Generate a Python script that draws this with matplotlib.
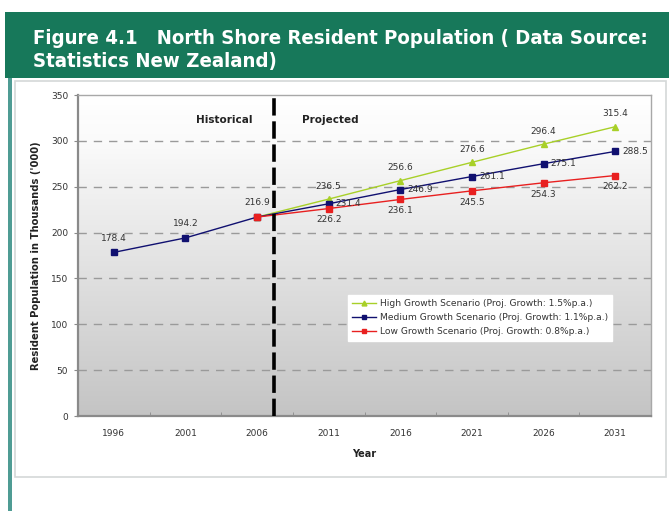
import numpy as np
import matplotlib
matplotlib.use("Agg")
import matplotlib.pyplot as plt
from matplotlib.patches import Rectangle
from matplotlib.lines import Line2D
from matplotlib.colors import LinearSegmentedColormap

years = ["1996", "2001", "2006", "2011", "2016", "2021", "2026", "2031"]
high = [None, None, 216.9, 236.5, 256.6, 276.6, 296.4, 315.4]
medium = [178.4, 194.2, 216.9, 231.4, 246.9, 261.1, 275.1, 288.5]
low = [None, None, 216.9, 226.2, 236.1, 245.5, 254.3, 262.2]
y_ticks = [0, 50, 100, 150, 200, 250, 300, 350]
split_pos = 2.24  # boundary between historical and projected periods

title = "Figure 4.1   North Shore Resident Population ( Data Source:\nStatistics New Zealand)"
legend_labels = ["High Growth Scenario (Proj. Growth: 1.5%p.a.)",
                 "Medium Growth Scenario (Proj. Growth: 1.1%p.a.)",
                 "Low Growth Scenario (Proj. Growth: 0.8%p.a.)"]

W, H = 669, 511
fig = plt.figure(figsize=(W / 100, H / 100), dpi=100)
fig.patch.set_facecolor("white")

def fx(px):
    return px / W

def fy(py):
    return 1 - py / H

# header bar and page frame
green = "#17785a"
fig.patches.append(Rectangle((fx(5), fy(78)), fx(664), 66 / H, transform=fig.transFigure,
                             facecolor=green, edgecolor="none", zorder=-2))
fig.patches.append(Rectangle((fx(8), 0), fx(4), fy(78), transform=fig.transFigure,
                             facecolor="#4f9c94", edgecolor="none", zorder=-2))
fig.patches.append(Rectangle((fx(15), fy(477)), fx(651), (477 - 81) / H, transform=fig.transFigure,
                             facecolor="white", edgecolor="#d4d8d8", lw=1.2, zorder=-2))
fig.text(fx(33), fy(50), title, color="white", fontsize=14.6, fontweight="bold",
         family="DejaVu Sans", fontstretch="condensed", va="center", ha="left",
         linespacing=1.3)

ax = fig.add_axes([fx(78), fy(416), fx(651 - 78), (416 - 95) / H])
ax.set_zorder(1)
n = len(years)
x = np.arange(n)
ax.set_xlim(-0.5, n - 0.5)
ax.set_ylim(0, 350)

# vertical grey gradient for the plotting area
cmap = LinearSegmentedColormap.from_list(
    "bg", [(0.0, "#c4c4c4"), (0.5, "#e4e4e4"), (0.85, "#fafafa"), (1.0, "#ffffff")])
ax.imshow(np.linspace(0, 1, 256).reshape(-1, 1), aspect="auto", cmap=cmap,
          extent=[-0.5, n - 0.5, 0, 350], origin="lower", zorder=0)

for t in y_ticks[1:-1]:
    ax.axhline(t, color="#9a9a9a", lw=1.0, ls=(0, (6, 5)), zorder=1)

for s in ["top", "right"]:
    ax.spines[s].set_color("#a8a8a8")
    ax.spines[s].set_linewidth(1.0)
for s in ["left", "bottom"]:
    ax.spines[s].set_color("#8a8a8a")
    ax.spines[s].set_linewidth(1.6)

def arr(v):
    return np.array([np.nan if a is None else a for a in v], dtype=float)

hc, mc, lc = "#a8d028", "#101070", "#e82020"
ax.plot(x, arr(high), color=hc, lw=1.0, marker="^", ms=4, mfc=hc, mec=hc, zorder=3)
ax.plot(x, arr(medium), color=mc, lw=1.0, marker="s", ms=4, mfc=mc, mec=mc, zorder=4)
ax.plot(x, arr(low), color=lc, lw=1.0, marker="s", ms=4, mfc=lc, mec=lc, zorder=5)

ax.axvline(split_pos, color="black", lw=2.6, ls=(0, (4.8, 1.6)), zorder=6)

lab = dict(fontsize=6.5, color="#333333", zorder=7)
for i in range(n):
    if high[i] is None or i == 2:
        ax.annotate(f"{medium[i]:.1f}", (x[i], medium[i]), xytext=(0, 7),
                    textcoords="offset points", ha="center", va="bottom", **lab)
    else:
        ax.annotate(f"{high[i]:.1f}", (x[i], high[i]), xytext=(0, 6),
                    textcoords="offset points", ha="center", va="bottom", **lab)
        ax.annotate(f"{medium[i]:.1f}", (x[i], medium[i]), xytext=(5, 0),
                    textcoords="offset points", ha="left", va="center", **lab)
        ax.annotate(f"{low[i]:.1f}", (x[i], low[i]), xytext=(0, -5),
                    textcoords="offset points", ha="center", va="top", **lab)

ax.text(1.54, 323, "Historical", fontsize=7.5, fontweight="bold", color="#222222",
        ha="center", va="center")
ax.text(3.02, 323, "Projected", fontsize=7.5, fontweight="bold", color="#222222",
        ha="center", va="center")

ax.set_xticks(x)
ax.set_xticklabels(years, fontsize=6.5, color="#333333")
ax.set_xticks(np.arange(-0.5, n, 1.0), minor=True)
ax.tick_params(axis="x", which="major", length=0, pad=9)
ax.tick_params(axis="x", which="minor", length=3, color="#8a8a8a", direction="in")
ax.set_yticks(y_ticks)
ax.set_yticklabels([str(t) for t in y_ticks], fontsize=6.5, color="#333333")
ax.tick_params(axis="y", length=3, color="#8a8a8a", pad=4)

ax.set_xlabel("Year", fontsize=7, fontweight="bold", color="#222222", labelpad=8)
ax.set_ylabel("Resident Population in Thousands ('000)", fontsize=7.2, fontweight="bold",
              color="#222222", labelpad=7)

handles = [Line2D([], [], color=hc, lw=1.0, marker="^", ms=3.5),
           Line2D([], [], color=mc, lw=1.0, marker="s", ms=3.5),
           Line2D([], [], color=lc, lw=1.0, marker="s", ms=3.5)]
leg = ax.legend(handles, legend_labels, loc="upper left",
                bbox_to_anchor=((343 - 78) / (651 - 78), (416 - 290) / (416 - 95)),
                fontsize=6.6, frameon=True, fancybox=False, handlelength=2.6,
                handletextpad=0.4, borderpad=0.5, labelspacing=0.55)
leg.get_frame().set_edgecolor("white")
leg.get_frame().set_facecolor("white")
leg.get_frame().set_alpha(1)
for t in leg.get_texts():
    t.set_color("#333333")
leg.set_zorder(8)

fig.savefig("out.png", dpi=100)
